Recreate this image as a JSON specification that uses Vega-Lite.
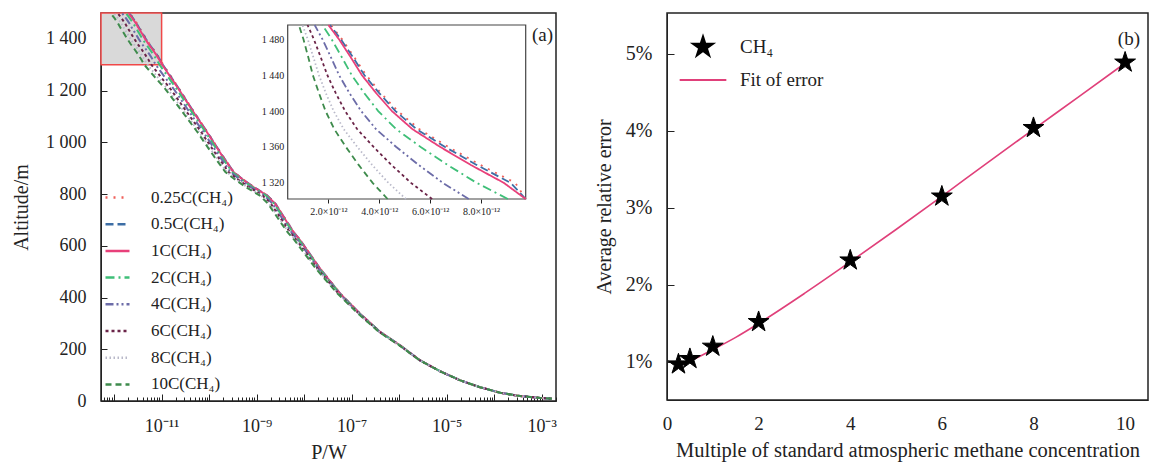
{
"$schema": "https://vega.github.io/schema/vega-lite/v6.json",
"background": "white",
"padding": {"left": 10, "right": 0, "top": 11, "bottom": 0},
"config": {
 "font": "Liberation Serif",
 "view": {"stroke": "#222", "strokeWidth": 1.5},
 "axis": {"labelFont": "Liberation Serif", "titleFont": "Liberation Serif", "labelFontSize": 18, "titleFontSize": 20, "titleFontWeight": "normal", "labelColor": "#222", "titleColor": "#222", "domainColor": "#222", "tickColor": "#222", "grid": false, "labelOverlap": false, "labelBound": false},
 "legend": {"labelFont": "Liberation Serif", "labelColor": "#222"}
},
"datasets": {
 "curves": [
{"s":"0.25C","a":1500,"p":2.10e-12},{"s":"0.25C","a":1480,"p":2.54e-12},{"s":"0.25C","a":1460,"p":3.02e-12},{"s":"0.25C","a":1440,"p":3.49e-12},{"s":"0.25C","a":1420,"p":4.07e-12},{"s":"0.25C","a":1400,"p":4.73e-12},{"s":"0.25C","a":1380,"p":5.57e-12},{"s":"0.25C","a":1360,"p":6.72e-12},{"s":"0.25C","a":1340,"p":7.98e-12},{"s":"0.25C","a":1320,"p":9.35e-12},{"s":"0.25C","a":1300,"p":1.08e-11},{"s":"0.25C","a":1250,"p":1.64e-11},{"s":"0.25C","a":1207,"p":2.34e-11},{"s":"0.25C","a":1117,"p":4.82e-11},{"s":"0.25C","a":1040,"p":9.18e-11},{"s":"0.25C","a":950,"p":1.89e-10},{"s":"0.25C","a":885,"p":3.32e-10},{"s":"0.25C","a":859,"p":4.98e-10},{"s":"0.25C","a":827,"p":8.75e-10},{"s":"0.25C","a":795,"p":1.67e-9},{"s":"0.25C","a":763,"p":2.50e-9},{"s":"0.25C","a":692,"p":4.41e-9},{"s":"0.25C","a":653,"p":6.06e-9},{"s":"0.25C","a":621,"p":8.36e-9},{"s":"0.25C","a":511,"p":2.19e-8},{"s":"0.25C","a":415,"p":5.77e-8},{"s":"0.25C","a":337,"p":1.52e-7},{"s":"0.25C","a":267,"p":3.99e-7},{"s":"0.25C","a":215,"p":1.05e-6},{"s":"0.25C","a":157,"p":2.77e-6},{"s":"0.25C","a":115,"p":7.30e-6},{"s":"0.25C","a":80,"p":1.92e-5},{"s":"0.25C","a":53,"p":5.07e-5},{"s":"0.25C","a":32,"p":1.34e-4},{"s":"0.25C","a":19,"p":3.52e-4},{"s":"0.25C","a":12,"p":9.29e-4},{"s":"0.25C","a":9,"p":1.64e-3},
{"s":"0.5C","a":1500,"p":2.06e-12},{"s":"0.5C","a":1480,"p":2.49e-12},{"s":"0.5C","a":1460,"p":2.97e-12},{"s":"0.5C","a":1440,"p":3.42e-12},{"s":"0.5C","a":1420,"p":4.00e-12},{"s":"0.5C","a":1400,"p":4.64e-12},{"s":"0.5C","a":1380,"p":5.46e-12},{"s":"0.5C","a":1360,"p":6.59e-12},{"s":"0.5C","a":1340,"p":7.83e-12},{"s":"0.5C","a":1320,"p":9.17e-12},{"s":"0.5C","a":1300,"p":1.06e-11},{"s":"0.5C","a":1250,"p":1.61e-11},{"s":"0.5C","a":1207,"p":2.31e-11},{"s":"0.5C","a":1117,"p":4.76e-11},{"s":"0.5C","a":1040,"p":9.09e-11},{"s":"0.5C","a":950,"p":1.88e-10},{"s":"0.5C","a":885,"p":3.29e-10},{"s":"0.5C","a":859,"p":4.94e-10},{"s":"0.5C","a":827,"p":8.68e-10},{"s":"0.5C","a":795,"p":1.66e-9},{"s":"0.5C","a":763,"p":2.48e-9},{"s":"0.5C","a":692,"p":4.38e-9},{"s":"0.5C","a":653,"p":6.02e-9},{"s":"0.5C","a":621,"p":8.31e-9},{"s":"0.5C","a":511,"p":2.19e-8},{"s":"0.5C","a":415,"p":5.75e-8},{"s":"0.5C","a":337,"p":1.51e-7},{"s":"0.5C","a":267,"p":3.99e-7},{"s":"0.5C","a":215,"p":1.05e-6},{"s":"0.5C","a":157,"p":2.77e-6},{"s":"0.5C","a":115,"p":7.30e-6},{"s":"0.5C","a":80,"p":1.92e-5},{"s":"0.5C","a":53,"p":5.07e-5},{"s":"0.5C","a":32,"p":1.34e-4},{"s":"0.5C","a":19,"p":3.52e-4},{"s":"0.5C","a":12,"p":9.29e-4},{"s":"0.5C","a":9,"p":1.64e-3},
{"s":"1C","a":1500,"p":2.00e-12},{"s":"1C","a":1480,"p":2.42e-12},{"s":"1C","a":1460,"p":2.88e-12},{"s":"1C","a":1440,"p":3.32e-12},{"s":"1C","a":1420,"p":3.88e-12},{"s":"1C","a":1400,"p":4.50e-12},{"s":"1C","a":1380,"p":5.30e-12},{"s":"1C","a":1360,"p":6.40e-12},{"s":"1C","a":1340,"p":7.60e-12},{"s":"1C","a":1320,"p":8.90e-12},{"s":"1C","a":1300,"p":1.03e-11},{"s":"1C","a":1250,"p":1.57e-11},{"s":"1C","a":1207,"p":2.26e-11},{"s":"1C","a":1117,"p":4.68e-11},{"s":"1C","a":1040,"p":8.95e-11},{"s":"1C","a":950,"p":1.85e-10},{"s":"1C","a":885,"p":3.25e-10},{"s":"1C","a":859,"p":4.88e-10},{"s":"1C","a":827,"p":8.57e-10},{"s":"1C","a":795,"p":1.64e-9},{"s":"1C","a":763,"p":2.45e-9},{"s":"1C","a":692,"p":4.33e-9},{"s":"1C","a":653,"p":5.96e-9},{"s":"1C","a":621,"p":8.24e-9},{"s":"1C","a":511,"p":2.17e-8},{"s":"1C","a":415,"p":5.73e-8},{"s":"1C","a":337,"p":1.51e-7},{"s":"1C","a":267,"p":3.98e-7},{"s":"1C","a":215,"p":1.05e-6},{"s":"1C","a":157,"p":2.77e-6},{"s":"1C","a":115,"p":7.30e-6},{"s":"1C","a":80,"p":1.92e-5},{"s":"1C","a":53,"p":5.07e-5},{"s":"1C","a":32,"p":1.34e-4},{"s":"1C","a":19,"p":3.52e-4},{"s":"1C","a":12,"p":9.29e-4},{"s":"1C","a":9,"p":1.64e-3},
{"s":"2C","a":1500,"p":1.76e-12},{"s":"2C","a":1480,"p":2.13e-12},{"s":"2C","a":1460,"p":2.53e-12},{"s":"2C","a":1440,"p":2.92e-12},{"s":"2C","a":1420,"p":3.41e-12},{"s":"2C","a":1400,"p":3.96e-12},{"s":"2C","a":1380,"p":4.66e-12},{"s":"2C","a":1360,"p":5.63e-12},{"s":"2C","a":1340,"p":6.69e-12},{"s":"2C","a":1320,"p":7.83e-12},{"s":"2C","a":1300,"p":9.06e-12},{"s":"2C","a":1250,"p":1.40e-11},{"s":"2C","a":1207,"p":2.06e-11},{"s":"2C","a":1117,"p":4.33e-11},{"s":"2C","a":1040,"p":8.37e-11},{"s":"2C","a":950,"p":1.74e-10},{"s":"2C","a":885,"p":3.07e-10},{"s":"2C","a":859,"p":4.62e-10},{"s":"2C","a":827,"p":8.12e-10},{"s":"2C","a":795,"p":1.56e-9},{"s":"2C","a":763,"p":2.33e-9},{"s":"2C","a":692,"p":4.14e-9},{"s":"2C","a":653,"p":5.72e-9},{"s":"2C","a":621,"p":7.93e-9},{"s":"2C","a":511,"p":2.11e-8},{"s":"2C","a":415,"p":5.63e-8},{"s":"2C","a":337,"p":1.49e-7},{"s":"2C","a":267,"p":3.95e-7},{"s":"2C","a":215,"p":1.04e-6},{"s":"2C","a":157,"p":2.76e-6},{"s":"2C","a":115,"p":7.29e-6},{"s":"2C","a":80,"p":1.92e-5},{"s":"2C","a":53,"p":5.07e-5},{"s":"2C","a":32,"p":1.34e-4},{"s":"2C","a":19,"p":3.52e-4},{"s":"2C","a":12,"p":9.29e-4},{"s":"2C","a":9,"p":1.64e-3},
{"s":"4C","a":1500,"p":1.46e-12},{"s":"4C","a":1480,"p":1.77e-12},{"s":"4C","a":1460,"p":2.10e-12},{"s":"4C","a":1440,"p":2.42e-12},{"s":"4C","a":1420,"p":2.83e-12},{"s":"4C","a":1400,"p":3.29e-12},{"s":"4C","a":1380,"p":3.87e-12},{"s":"4C","a":1360,"p":4.67e-12},{"s":"4C","a":1340,"p":5.55e-12},{"s":"4C","a":1320,"p":6.50e-12},{"s":"4C","a":1300,"p":7.52e-12},{"s":"4C","a":1250,"p":1.19e-11},{"s":"4C","a":1207,"p":1.79e-11},{"s":"4C","a":1117,"p":3.86e-11},{"s":"4C","a":1040,"p":7.57e-11},{"s":"4C","a":950,"p":1.59e-10},{"s":"4C","a":885,"p":2.82e-10},{"s":"4C","a":859,"p":4.25e-10},{"s":"4C","a":827,"p":7.50e-10},{"s":"4C","a":795,"p":1.44e-9},{"s":"4C","a":763,"p":2.16e-9},{"s":"4C","a":692,"p":3.87e-9},{"s":"4C","a":653,"p":5.37e-9},{"s":"4C","a":621,"p":7.48e-9},{"s":"4C","a":511,"p":2.02e-8},{"s":"4C","a":415,"p":5.47e-8},{"s":"4C","a":337,"p":1.46e-7},{"s":"4C","a":267,"p":3.90e-7},{"s":"4C","a":215,"p":1.04e-6},{"s":"4C","a":157,"p":2.75e-6},{"s":"4C","a":115,"p":7.26e-6},{"s":"4C","a":80,"p":1.92e-5},{"s":"4C","a":53,"p":5.07e-5},{"s":"4C","a":32,"p":1.34e-4},{"s":"4C","a":19,"p":3.52e-4},{"s":"4C","a":12,"p":9.29e-4},{"s":"4C","a":9,"p":1.64e-3},
{"s":"6C","a":1500,"p":1.18e-12},{"s":"6C","a":1480,"p":1.43e-12},{"s":"6C","a":1460,"p":1.70e-12},{"s":"6C","a":1440,"p":1.96e-12},{"s":"6C","a":1420,"p":2.29e-12},{"s":"6C","a":1400,"p":2.66e-12},{"s":"6C","a":1380,"p":3.13e-12},{"s":"6C","a":1360,"p":3.78e-12},{"s":"6C","a":1340,"p":4.48e-12},{"s":"6C","a":1320,"p":5.25e-12},{"s":"6C","a":1300,"p":6.08e-12},{"s":"6C","a":1250,"p":9.89e-12},{"s":"6C","a":1207,"p":1.53e-11},{"s":"6C","a":1117,"p":3.39e-11},{"s":"6C","a":1040,"p":6.77e-11},{"s":"6C","a":950,"p":1.44e-10},{"s":"6C","a":885,"p":2.56e-10},{"s":"6C","a":859,"p":3.87e-10},{"s":"6C","a":827,"p":6.85e-10},{"s":"6C","a":795,"p":1.32e-9},{"s":"6C","a":763,"p":1.99e-9},{"s":"6C","a":692,"p":3.59e-9},{"s":"6C","a":653,"p":5.00e-9},{"s":"6C","a":621,"p":7.01e-9},{"s":"6C","a":511,"p":1.93e-8},{"s":"6C","a":415,"p":5.31e-8},{"s":"6C","a":337,"p":1.43e-7},{"s":"6C","a":267,"p":3.84e-7},{"s":"6C","a":215,"p":1.02e-6},{"s":"6C","a":157,"p":2.73e-6},{"s":"6C","a":115,"p":7.24e-6},{"s":"6C","a":80,"p":1.91e-5},{"s":"6C","a":53,"p":5.07e-5},{"s":"6C","a":32,"p":1.34e-4},{"s":"6C","a":19,"p":3.52e-4},{"s":"6C","a":12,"p":9.29e-4},{"s":"6C","a":9,"p":1.64e-3},
{"s":"8C","a":1500,"p":0.98e-12},{"s":"8C","a":1480,"p":1.19e-12},{"s":"8C","a":1460,"p":1.41e-12},{"s":"8C","a":1440,"p":1.63e-12},{"s":"8C","a":1420,"p":1.90e-12},{"s":"8C","a":1400,"p":2.21e-12},{"s":"8C","a":1380,"p":2.60e-12},{"s":"8C","a":1360,"p":3.14e-12},{"s":"8C","a":1340,"p":3.72e-12},{"s":"8C","a":1320,"p":4.36e-12},{"s":"8C","a":1300,"p":5.05e-12},{"s":"8C","a":1250,"p":8.40e-12},{"s":"8C","a":1207,"p":1.33e-11},{"s":"8C","a":1117,"p":3.03e-11},{"s":"8C","a":1040,"p":6.13e-11},{"s":"8C","a":950,"p":1.32e-10},{"s":"8C","a":885,"p":2.36e-10},{"s":"8C","a":859,"p":3.57e-10},{"s":"8C","a":827,"p":6.33e-10},{"s":"8C","a":795,"p":1.22e-9},{"s":"8C","a":763,"p":1.84e-9},{"s":"8C","a":692,"p":3.35e-9},{"s":"8C","a":653,"p":4.70e-9},{"s":"8C","a":621,"p":6.62e-9},{"s":"8C","a":511,"p":1.85e-8},{"s":"8C","a":415,"p":5.16e-8},{"s":"8C","a":337,"p":1.41e-7},{"s":"8C","a":267,"p":3.80e-7},{"s":"8C","a":215,"p":1.02e-6},{"s":"8C","a":157,"p":2.72e-6},{"s":"8C","a":115,"p":7.22e-6},{"s":"8C","a":80,"p":1.91e-5},{"s":"8C","a":53,"p":5.07e-5},{"s":"8C","a":32,"p":1.34e-4},{"s":"8C","a":19,"p":3.52e-4},{"s":"8C","a":12,"p":9.29e-4},{"s":"8C","a":9,"p":1.64e-3},
{"s":"10C","a":1500,"p":0.84e-12},{"s":"10C","a":1480,"p":1.02e-12},{"s":"10C","a":1460,"p":1.21e-12},{"s":"10C","a":1440,"p":1.39e-12},{"s":"10C","a":1420,"p":1.63e-12},{"s":"10C","a":1400,"p":1.89e-12},{"s":"10C","a":1380,"p":2.23e-12},{"s":"10C","a":1360,"p":2.69e-12},{"s":"10C","a":1340,"p":3.19e-12},{"s":"10C","a":1320,"p":3.74e-12},{"s":"10C","a":1300,"p":4.33e-12},{"s":"10C","a":1250,"p":7.35e-12},{"s":"10C","a":1207,"p":1.19e-11},{"s":"10C","a":1117,"p":2.76e-11},{"s":"10C","a":1040,"p":5.65e-11},{"s":"10C","a":950,"p":1.22e-10},{"s":"10C","a":885,"p":2.20e-10},{"s":"10C","a":859,"p":3.34e-10},{"s":"10C","a":827,"p":5.93e-10},{"s":"10C","a":795,"p":1.15e-9},{"s":"10C","a":763,"p":1.73e-9},{"s":"10C","a":692,"p":3.17e-9},{"s":"10C","a":653,"p":4.47e-9},{"s":"10C","a":621,"p":6.32e-9},{"s":"10C","a":511,"p":1.78e-8},{"s":"10C","a":415,"p":5.05e-8},{"s":"10C","a":337,"p":1.38e-7},{"s":"10C","a":267,"p":3.76e-7},{"s":"10C","a":215,"p":1.01e-6},{"s":"10C","a":157,"p":2.71e-6},{"s":"10C","a":115,"p":7.20e-6},{"s":"10C","a":80,"p":1.91e-5},{"s":"10C","a":53,"p":5.07e-5},{"s":"10C","a":32,"p":1.34e-4},{"s":"10C","a":19,"p":3.52e-4},{"s":"10C","a":12,"p":9.29e-4},{"s":"10C","a":9,"p":1.64e-3}
 ],
 "err": [
{"s":"CH₄","m":0.25,"e":0.97},{"s":"CH₄","m":0.5,"e":1.04},{"s":"CH₄","m":1,"e":1.20},{"s":"CH₄","m":2,"e":1.52},{"s":"CH₄","m":4,"e":2.32},{"s":"CH₄","m":6,"e":3.15},{"s":"CH₄","m":8,"e":4.04},{"s":"CH₄","m":10,"e":4.89}
 ],
 "fit": [
{"m":0.25,"e":0.95},{"m":0.5,"e":1.01},{"m":1,"e":1.16},{"m":1.5,"e":1.32},{"m":2,"e":1.50},{"m":3,"e":1.89},{"m":4,"e":2.30},{"m":5,"e":2.72},{"m":6,"e":3.15},{"m":7,"e":3.59},{"m":8,"e":4.02},{"m":9,"e":4.45},{"m":10,"e":4.88}
 ]
},
"spacing": 35,
"hconcat": [
 {
  "width": 455, "height": 388,
  "layer": [
   {
    "layer": [
     {
      "data": {"values": [{}]},
      "mark": {"type": "rect", "fill": "#d9d9d9", "stroke": "#f04848", "strokeWidth": 1.5},
      "encoding": {
       "x": {"datum": 5.3e-13, "type": "quantitative"},
       "x2": {"datum": 1e-11},
       "y": {"datum": 1300, "type": "quantitative"},
       "y2": {"datum": 1500}
      }
     },
     {
      "data": {"name": "curves"},
      "mark": {"type": "line", "strokeWidth": 2, "clip": true},
      "encoding": {
       "x": {"field": "p", "type": "quantitative", "title": "P/W",
        "scale": {"type": "log", "domain": [5.3e-13, 2e-3], "nice": false},
        "axis": {
         "values": [6e-13,7e-13,8e-13,9e-13,1e-12,2e-12,3e-12,4e-12,5e-12,6e-12,7e-12,8e-12,9e-12,1e-11,2e-11,3e-11,4e-11,5e-11,6e-11,7e-11,8e-11,9e-11,1e-10,2e-10,3e-10,4e-10,5e-10,6e-10,7e-10,8e-10,9e-10,1e-9,2e-9,3e-9,4e-9,5e-9,6e-9,7e-9,8e-9,9e-9,1e-8,2e-8,3e-8,4e-8,5e-8,6e-8,7e-8,8e-8,9e-8,1e-7,2e-7,3e-7,4e-7,5e-7,6e-7,7e-7,8e-7,9e-7,1e-6,2e-6,3e-6,4e-6,5e-6,6e-6,7e-6,8e-6,9e-6,1e-5,2e-5,3e-5,4e-5,5e-5,6e-5,7e-5,8e-5,9e-5,1e-4,2e-4,3e-4,4e-4,5e-4,6e-4,7e-4,8e-4,9e-4,1e-3,2e-3],
         "labelExpr": "abs(log(datum.value)/LN10+11)<0.01 ? '10⁻¹¹' : abs(log(datum.value)/LN10+9)<0.01 ? '10⁻⁹' : abs(log(datum.value)/LN10+7)<0.01 ? '10⁻⁷' : abs(log(datum.value)/LN10+5)<0.01 ? '10⁻⁵' : abs(log(datum.value)/LN10+3)<0.01 ? '10⁻³' : ''",
         "tickSize": {"condition": {"test": "abs(log(datum.value)/LN10 - round(log(datum.value)/LN10)) < 0.01", "value": -7}, "value": -4},
         "labelPadding": 23, "titlePadding": 4, "labelFlush": false
        }
       },
       "y": {"field": "a", "type": "quantitative", "title": "Altitude/m",
        "scale": {"domain": [0, 1500], "nice": false},
        "axis": {"values": [0,200,400,600,800,1000,1200,1400], "labelExpr": "replace(format(datum.value, ','), ',', ' ')", "tickSize": -6, "labelPadding": 21, "titlePadding": 14}
       },
       "order": {"field": "a", "type": "quantitative"},
       "color": {"field": "s", "type": "nominal",
        "scale": {"domain": ["0.25C","0.5C","1C","2C","4C","6C","8C","10C"], "range": ["#f0605a","#3d6ea5","#e8407a","#3fbf78","#6c6ca8","#6b2448","#b9b9c9","#3e8b4c"]},
        "legend": {"title": null, "orient": "none", "legendX": 8, "legendY": 176, "symbolType": "M-3,0L3,0", "symbolSize": 64, "symbolStrokeWidth": 2.5, "labelFontSize": 17, "labelOffset": 25, "rowPadding": 8.7, "labelExpr": "datum.label + '(CH₄)'"}
       },
       "strokeDash": {"field": "s", "type": "nominal",
        "scale": {"domain": ["0.25C","0.5C","1C","2C","4C","6C","8C","10C"], "range": [[2,6],[8,4],[1,0],[9,4,2,4],[8,3,2,3,2,3],[3,3],[1.5,2.5],[6,4]]},
        "legend": {"title": null, "orient": "none", "legendX": 8, "legendY": 176, "symbolType": "M-3,0L3,0", "symbolSize": 64, "symbolStrokeWidth": 2.5, "labelFontSize": 17, "labelOffset": 25, "rowPadding": 8.7, "labelExpr": "datum.label + '(CH₄)'"}
       }
      }
     },
     {
      "data": {"values": [{}]},
      "mark": {"type": "text", "text": "(a)", "align": "right", "baseline": "middle", "fontSize": 19, "dx": -3, "font": "Liberation Serif", "color": "#222"},
      "encoding": {
       "x": {"datum": 2e-3, "type": "quantitative"},
       "y": {"datum": 1415, "type": "quantitative"}
      }
     }
    ]
   },
   {
    "layer": [
     {
      "data": {"values": [{}]},
      "mark": {"type": "rect", "fill": "white", "stroke": "#444", "strokeWidth": 1.2},
      "encoding": {
       "x": {"datum": 0.4e-12, "type": "quantitative"},
       "x2": {"datum": 9.76e-12},
       "y": {"datum": 1302, "type": "quantitative"},
       "y2": {"datum": 1496}
      }
     },
     {
      "data": {"name": "curves"},
      "transform": [{"filter": "datum.a >= 1300"}],
      "mark": {"type": "line", "strokeWidth": 1.8},
      "encoding": {
       "x": {"field": "p", "type": "quantitative", "title": null,
        "scale": {"domain": [0.4e-12, 9.76e-12], "range": [186.7, 424.7], "nice": false, "zero": false, "clamp": true},
        "axis": {"orient": "bottom", "offset": -202, "values": [2e-12, 4e-12, 6e-12, 8e-12], "labelExpr": "format(datum.value*1e12, '.1f') + '×10⁻¹²'", "labelFontSize": 10, "tickSize": 4, "labelPadding": 3, "domain": false, "labelFlush": false}
       },
       "y": {"field": "a", "type": "quantitative", "title": null,
        "scale": {"domain": [1302, 1496], "range": [186, 12], "nice": false, "zero": false, "clamp": true},
        "axis": {"orient": "left", "offset": -186.7, "values": [1320, 1360, 1400, 1440, 1480], "labelExpr": "replace(format(datum.value, ','), ',', ' ')", "labelFontSize": 10, "tickSize": -4, "labelPadding": 8, "domain": false}
       },
       "order": {"field": "a", "type": "quantitative"},
       "color": {"field": "s", "type": "nominal"},
       "strokeDash": {"field": "s", "type": "nominal"}
      }
     }
    ]
   }
  ],
  "resolve": {"scale": {"x": "independent", "y": "independent"}}
 },
 {
  "width": 481, "height": 387,
  "layer": [
   {
    "data": {"name": "fit"},
    "mark": {"type": "line", "color": "#e0407a", "strokeWidth": 1.6, "interpolate": "monotone"},
    "encoding": {
     "x": {"field": "m", "type": "quantitative", "title": "Multiple of standard atmospheric methane concentration",
      "scale": {"domain": [0, 10.5], "nice": false},
      "axis": {"values": [0,2,4,6,8,10], "ticks": false, "labelPadding": 14, "labelFontSize": 19, "titlePadding": 7, "titleFontSize": 20.5, "labelFlush": false}
     },
     "y": {"field": "e", "type": "quantitative", "title": "Average relative error",
      "scale": {"domain": [0.506, 5.532], "nice": false},
      "axis": {"values": [1,2,3,4,5], "labelExpr": "datum.value + '%'", "tickSize": -7, "labelPadding": 22, "labelFontSize": 20, "titlePadding": 11}
     }
    }
   },
   {
    "data": {"name": "err"},
    "mark": {"type": "point", "filled": true, "strokeWidth": 1, "opacity": 1},
    "encoding": {
     "x": {"field": "m", "type": "quantitative"},
     "y": {"field": "e", "type": "quantitative"},
     "size": {"value": 480},
     "shape": {"field": "s", "type": "nominal",
      "scale": {"domain": ["CH₄", "Fit of error"], "range": ["M0,-1L0.2245,-0.309L0.951,-0.309L0.363,0.118L0.588,0.809L0,0.382L-0.588,0.809L-0.363,0.118L-0.951,-0.309L-0.2245,-0.309Z", "M-2.2,0L2.2,0"]},
      "legend": {"title": null, "orient": "none", "legendX": 590, "legendY": 22, "symbolSize": 450, "labelFontSize": 19, "labelOffset": 25, "rowPadding": 8, "symbolStrokeWidth": 2}
     },
     "fill": {"field": "s", "type": "nominal", "scale": {"domain": ["CH₄", "Fit of error"], "range": ["#000000", "#e0407a"]},
      "legend": {"title": null, "orient": "none", "legendX": 590, "legendY": 22, "symbolSize": 450, "labelFontSize": 19, "labelOffset": 25, "rowPadding": 8, "symbolStrokeWidth": 2}
     },
     "stroke": {"field": "s", "type": "nominal", "scale": {"domain": ["CH₄", "Fit of error"], "range": ["#000000", "#e0407a"]},
      "legend": {"title": null, "orient": "none", "legendX": 590, "legendY": 22, "symbolSize": 450, "labelFontSize": 19, "labelOffset": 25, "rowPadding": 8, "symbolStrokeWidth": 2}
     }
    }
   },
   {
    "data": {"values": [{}]},
    "mark": {"type": "text", "text": "(b)", "align": "right", "baseline": "middle", "fontSize": 19, "dx": -8, "font": "Liberation Serif", "color": "#222"},
    "encoding": {
     "x": {"datum": 10.5, "type": "quantitative"},
     "y": {"datum": 5.19, "type": "quantitative"}
    }
   }
  ]
 }
]
}
